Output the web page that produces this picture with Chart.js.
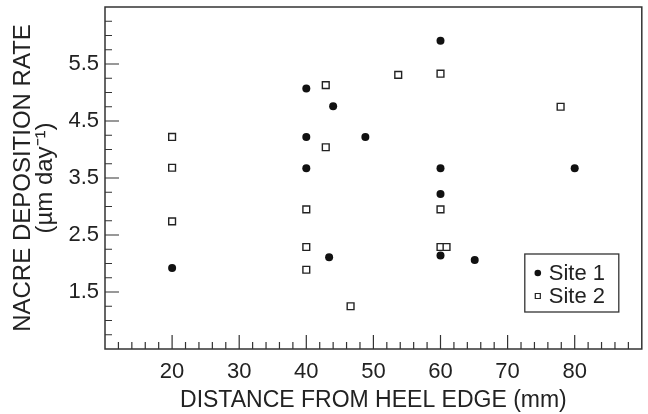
<!DOCTYPE html>
<html>
<head>
<meta charset="utf-8">
<script src="https://cdn.jsdelivr.net/npm/chart.js@4/dist/chart.umd.min.js"></script>
<style>
  html, body { margin: 0; padding: 0; background: #fff; }
  #wrap { width: 648px; height: 414px; }
</style>
</head>
<body>
<div id="wrap"><canvas id="chart" width="648" height="414"></canvas></div>
<script>
// distance from heel edge (mm) and nacre deposition rate (um/day)
const site1X = [20, 40, 40, 40, 44, 48.8, 43.4, 60, 60, 60, 60, 65.1, 80];
const site1Y = [1.92, 5.07, 4.22, 3.67, 4.76, 4.22, 2.11, 5.91, 3.67, 3.22, 2.14, 2.06, 3.67];
const site2X = [20, 20, 20, 40, 40, 40, 42.9, 42.9, 46.6, 53.7, 60, 60, 60, 60.9, 77.9];
const site2Y = [4.22, 3.68, 2.74, 2.95, 2.29, 1.89, 5.13, 4.04, 1.25, 5.31, 5.33, 2.95, 2.29, 2.29, 4.75];
const seriesNames = ['Site 1', 'Site 2'];
const xLabels = [20, 30, 40, 50, 60, 70, 80];
const yLabels = [1.5, 2.5, 3.5, 4.5, 5.5];

const ink = '#222';
const FONT = 'Liberation Sans, Arial, sans-serif';

function toPoints(xs, ys) {
    return xs.map((x, i) => ({ x: x, y: ys[i] }));
}

// ticks pointing into the plot, long ones where a label sits, plus the frame
const frameTicks = {
    id: 'frameTicks',
    afterDraw(chart) {
        const ctx = chart.ctx;
        const a = chart.chartArea;
        const xs = chart.scales.x, ys = chart.scales.y;
        ctx.save();
        ctx.strokeStyle = '#333';
        ctx.lineWidth = 1.5;
        ctx.strokeRect(a.left, a.top, a.right - a.left, a.bottom - a.top);
        ctx.lineWidth = 1.2;
        ctx.beginPath();
        xs.ticks.forEach(t => {
            if (t.value <= xs.min || t.value >= xs.max) return;
            const px = xs.getPixelForValue(t.value);
            const len = xLabels.includes(t.value) ? 14 : 7;
            ctx.moveTo(px, a.bottom);
            ctx.lineTo(px, a.bottom - len);
        });
        ys.ticks.forEach(t => {
            if (t.value <= ys.min || t.value >= ys.max) return;
            const py = ys.getPixelForValue(t.value);
            const len = yLabels.includes(t.value) ? 14 : 7;
            ctx.moveTo(a.left, py);
            ctx.lineTo(a.left + len, py);
        });
        ctx.stroke();
        ctx.restore();
    }
};

// boxed legend in the lower right corner of the plot
const boxLegend = {
    id: 'boxLegend',
    afterDraw(chart) {
        const ctx = chart.ctx;
        const a = chart.chartArea;
        const right = a.right - 23, bottom = a.bottom - 37;
        const w = 94, h = 58;
        const left = right - w, top = bottom - h;
        ctx.save();
        ctx.strokeStyle = '#333';
        ctx.lineWidth = 1.3;
        ctx.strokeRect(left, top, w, h);
        ctx.font = '22px ' + FONT;
        ctx.textBaseline = 'middle';
        chart.data.datasets.forEach((ds, i) => {
            const cy = top + 19 + i * 23;
            ctx.fillStyle = ds.pointBackgroundColor;
            ctx.strokeStyle = ds.pointBorderColor;
            ctx.beginPath();
            if (ds.pointStyle === 'circle') {
                ctx.arc(left + 13, cy, 3.3, 0, Math.PI * 2);
                ctx.fill();
            } else {
                ctx.lineWidth = 1.2;
                ctx.rect(left + 10.5, cy - 2.5, 5, 5);
                ctx.fill();
                ctx.stroke();
            }
            ctx.fillStyle = ink;
            ctx.fillText(seriesNames[i], left + 24, cy + 1);
        });
        ctx.restore();
    }
};

new Chart(document.getElementById('chart'), {
    type: 'scatter',
    data: {
        datasets: [{
            label: seriesNames[0],
            data: toPoints(site1X, site1Y),
            pointStyle: 'circle',
            pointRadius: 4,
            pointBackgroundColor: '#111',
            pointBorderColor: '#111',
            pointBorderWidth: 0
        }, {
            label: seriesNames[1],
            data: toPoints(site2X, site2Y),
            pointStyle: 'rect',
            pointRadius: 4.8,
            pointBackgroundColor: '#fff',
            pointBorderColor: '#222',
            pointBorderWidth: 1.4
        }]
    },
    options: {
        responsive: false,
        animation: false,
        events: [],
        layout: { padding: { top: 7, right: -2, left: 0, bottom: 0 } },
        plugins: {
            legend: { display: false },
            tooltip: { enabled: false }
        },
        scales: {
            x: {
                type: 'linear',
                min: 10,
                max: 90,
                grid: { display: false, drawTicks: false },
                border: { display: false },
                ticks: {
                    stepSize: 2,
                    autoSkip: false,
                    maxRotation: 0,
                    padding: 10,
                    color: ink,
                    font: { family: FONT, size: 22 },
                    callback: v => xLabels.includes(v) ? String(v) : ''
                },
                title: {
                    display: true,
                    text: 'DISTANCE FROM HEEL EDGE (mm)',
                    color: ink,
                    font: { family: FONT, size: 23 },
                    padding: { top: 0, bottom: 0 }
                },
                afterFit(scale) {
                    scale.height = 65;
                    scale.paddingLeft = 0;
                    scale.paddingRight = 0;
                }
            },
            y: {
                type: 'linear',
                min: 0.5,
                max: 6.5,
                grid: { display: false, drawTicks: false },
                border: { display: false },
                ticks: {
                    stepSize: 0.25,
                    autoSkip: false,
                    padding: 6,
                    color: ink,
                    font: { family: FONT, size: 22 },
                    callback: v => yLabels.includes(v) ? v.toFixed(1) : ''
                },
                title: {
                    display: true,
                    text: ['NACRE DEPOSITION RATE', '(\u00b5m day\u207b\u00b9)'],
                    color: ink,
                    font: { family: FONT, size: 24, lineHeight: 0.93 },
                    padding: { top: 12, bottom: 0 }
                },
                afterFit(scale) {
                    scale.width = 105;
                    scale.paddingTop = 0;
                    scale.paddingBottom = 0;
                }
            }
        }
    },
    plugins: [frameTicks, boxLegend]
});
</script>
</body>
</html>
